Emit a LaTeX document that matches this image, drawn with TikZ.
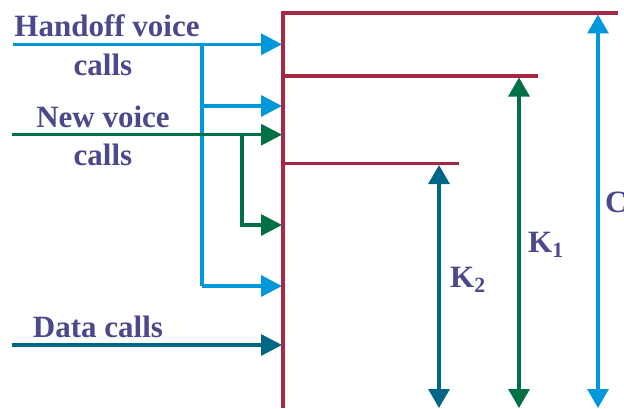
\documentclass[tikz,border=0pt]{standalone}
\usepackage{fontspec}
\setmainfont{Liberation Serif}
\usetikzlibrary{arrows.meta, positioning}

\definecolor{limitred}{RGB}{165,40,68}
\definecolor{handoffblue}{RGB}{0,152,218}
\definecolor{voicegreen}{RGB}{0,112,70}
\definecolor{datateal}{RGB}{0,102,134}
\definecolor{labelink}{RGB}{75,72,140}

\begin{document}
\begin{tikzpicture}[
  x=1pt, y=1pt,
  lbl/.style = {
    inner sep=0pt, anchor=base, text=labelink,
    font=\fontsize{31}{35}\selectfont\bfseries
  },
  border/.style = {
    draw=limitred, line width=3.2pt
  },
  flow/.style = {
    line width=3.2pt, -{Triangle[length=21pt, width=21pt]}
  },
  span/.style = {
    line width=3.2pt, {Triangle[length=19pt, width=21pt]}-{Triangle[length=19pt, width=21pt]}
  }
]
\useasboundingbox (0,0) rectangle (624,408);

% ====== THRESHOLD LINES ======
\coordinate (base) at (283,0);
\coordinate (topc) at (283,395);
\coordinate (cend) at (618,395);
\coordinate (kone) at (283,332);
\coordinate (koneend) at (538,332);
\coordinate (ktwo) at (283,244.5);
\coordinate (ktwoend) at (459,244.5);

\draw[border] (base) -- (topc) -- (cend);
\draw[border] (kone) -- (koneend);
\draw[border] (ktwo) -- (ktwoend);

% ====== LABELS (left) ======
\node[lbl] (handoff) at (107,371) {Handoff voice};
\node[lbl] (handoffb) at (103,332) {calls};
\node[lbl] (newv) at (103,280) {New voice};
\node[lbl] (newvb) at (103,243) {calls};
\node[lbl] (data) at (98,71) {Data calls};

% ====== INCOMING CALLS ======
\coordinate (hin) at (13,363.7);
\coordinate (hsplit) at (202,363.7);
\coordinate (hmid) at (202,302);
\coordinate (hlow) at (202,122);
\coordinate (hout) at (282,363.7);
\coordinate (hmidout) at (282,302);
\coordinate (hlowout) at (282,122);

\coordinate (nin) at (12,273.3);
\coordinate (nsplit) at (242,273.3);
\coordinate (nlow) at (242,183);
\coordinate (nout) at (282,273.3);
\coordinate (nlowout) at (282,183);

\coordinate (din) at (12,63);
\coordinate (dout) at (282,63);

% handoff voice calls
\draw[flow, handoffblue] (hin) -- (hout);
\draw[line width=3.2pt, handoffblue] (hsplit) -- (hlow);
\draw[flow, handoffblue] (hmid) -- (hmidout);
\draw[flow, handoffblue] (hlow) -- (hlowout);

% new voice calls
\draw[flow, voicegreen] (nin) -- (nout);
\draw[flow, voicegreen] (nsplit) -- (nlow) -- (nlowout);

% data calls
\draw[flow, datateal] (din) -- (dout);

% ====== CAPACITY SPANS ======
\coordinate (ktwobot) at (439,0);
\coordinate (ktwotop) at (439,243);
\coordinate (konebot) at (519,0);
\coordinate (konetop) at (519,330.5);
\coordinate (cbot) at (598,0);
\coordinate (ctop) at (598,393.5);

\draw[span, datateal] (ktwobot) -- (ktwotop);
\draw[span, voicegreen] (konebot) -- (konetop);
\draw[span, handoffblue] (cbot) -- (ctop);

\node[lbl, anchor=base west] (ktwolbl) at (450,121) {K\textsubscript{2}};
\node[lbl, anchor=base west] (konelbl) at (528,156) {K\textsubscript{1}};
\node[lbl, anchor=base west] (clbl) at (605,196) {C};

\end{tikzpicture}
\end{document}
